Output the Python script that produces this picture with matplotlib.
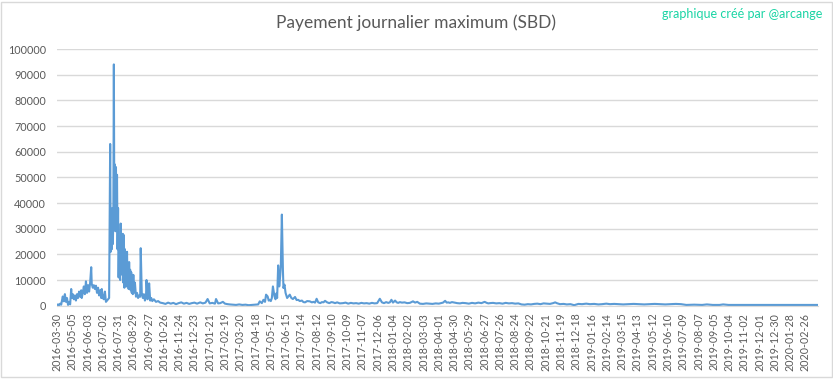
import matplotlib
matplotlib.use("Agg")
import matplotlib.pyplot as plt
from matplotlib.patches import Rectangle

# Paiement maximum journalier (SBD), par tranche.
# jour_* = index de catégorie (jour depuis 2016-03-30), sbd_* = valeur

# printemps 2016
jour_debut = [0, 2, 4, 6, 8, 10, 11, 13, 15, 17,
              19, 21, 23, 25, 27, 28, 30, 32, 34, 36,
              38, 40, 42, 44, 46, 47, 49, 51, 53, 55,
              57, 59, 61, 63, 65, 66, 68, 70, 72, 74,
              76, 78, 80, 82, 84, 85, 87, 89, 91, 93,
              95, 97, 99]
sbd_debut = [300, 500, 200, 800, 400, 2600, 3600, 1700, 4500, 1500,
             3000, 300, 1500, 500, 6500, 3000, 4500, 2500, 4000, 2000,
             4500, 3000, 5500, 3500, 6000, 3000, 5000, 7500, 4500, 9500,
             5000, 8000, 5500, 9000, 15000, 8500, 7000, 8000, 6500, 7800,
             5000, 7000, 4000, 6000, 3000, 6500, 3000, 2500, 5500, 1500,
             2000, 2500, 3000]

# pic de l'été 2016
jour_pic16 = [101, 102, 103, 104, 105, 106, 107, 108, 109, 110,
              111, 112, 113, 114, 115, 116, 117, 118, 119, 120,
              121, 122, 123, 124, 125, 126, 127, 128, 129, 130,
              131, 132, 133, 134, 135, 136, 137, 138, 139, 140,
              141, 142, 143, 144, 145, 146, 148, 150, 152, 154,
              156, 158, 159, 161, 162, 163, 165, 167, 169, 170,
              172, 173, 175, 177, 179, 181, 184, 188, 192, 196,
              201]
sbd_pic16 = [63000, 21000, 36000, 22000, 38000, 24000, 33000, 94000, 30000, 55000,
             29000, 54000, 30000, 51000, 22000, 38000, 11000, 25000, 12000, 10000,
             32000, 14000, 22000, 12000, 28000, 9000, 27500, 7000, 22000, 10000,
             20000, 7500, 21000, 8000, 16000, 6500, 17000, 9000, 14000, 6000,
             13000, 5000, 9000, 4500, 12000, 5000, 9000, 3500, 5000, 3000,
             4000, 3500, 22400, 5000, 4000, 3000, 4500, 2000, 3500, 10000,
             2500, 3000, 8700, 2000, 3000, 1800, 2500, 1500, 1800, 1200,
             1000]

# hiver 2016-2017
jour_creux = [206, 211, 216, 221, 226, 231, 236, 241, 246, 251,
              256, 261, 266, 272, 277, 282, 286, 290, 295, 300,
              302, 306, 310, 315, 319, 324, 328, 334, 340, 346,
              352, 358, 364, 370, 376, 382]
sbd_creux = [700, 1200, 800, 1100, 600, 1000, 1300, 800, 1100, 700,
             1000, 1200, 800, 1300, 900, 1200, 2600, 900, 1100, 800,
             2600, 900, 1000, 1500, 800, 600, 500, 400, 300, 500,
             300, 400, 200, 300, 400, 500]

# pic de juin 2017
jour_pic17 = [385, 389, 392, 395, 397, 400, 402, 404, 406, 408,
              410, 413, 415, 417, 418, 420, 422, 424, 425, 427,
              429, 430, 432, 434, 435, 437, 440, 442, 445, 448,
              452, 455, 458, 461, 465, 468, 471, 475, 480]
sbd_pic17 = [1700, 1000, 2300, 1500, 4300, 3600, 2000, 2300, 1800, 3000,
             7500, 3600, 2500, 4900, 3000, 15700, 7500, 12000, 15300, 35500,
             14000, 6900, 8200, 5000, 4300, 3000, 3800, 4300, 3000, 2600,
             3400, 2200, 2300, 1800, 2000, 1400, 1300, 1800, 1700]

# mi-2017 à fin 2018
jour_milieu = [484, 487, 490, 493, 496, 500, 503, 506, 509, 513,
               517, 521, 524, 528, 532, 537, 543, 548, 553, 558,
               563, 568, 573, 578, 583, 588, 593, 598, 603, 608,
               613, 617, 621, 625, 629, 632, 635, 638, 642, 645,
               648, 651, 655, 660, 665, 670, 676, 680, 684, 689,
               695, 701, 707, 713, 719, 725, 733, 737, 740, 743,
               746, 750, 755, 760, 765, 770, 776, 782, 788, 794,
               800, 806, 812, 816, 819, 822, 828, 834, 840, 846,
               852, 858, 864, 870, 876, 882, 888, 894, 900, 906,
               912, 918, 924, 930, 936, 942]
sbd_milieu = [1300, 1500, 1200, 2700, 1300, 1000, 1400, 1300, 1900, 1300,
              1000, 1400, 1300, 1000, 1300, 900, 1000, 1200, 800, 1100,
              900, 1000, 800, 1100, 900, 1000, 800, 1100, 900, 1000,
              2700, 1300, 1000, 1400, 1100, 1300, 2300, 1200, 2000, 1300,
              1100, 1400, 1200, 1300, 1000, 1100, 1700, 1200, 1500, 800,
              700, 900, 800, 700, 900, 800, 1200, 1900, 1200, 1300,
              1100, 1400, 1200, 1000, 900, 1100, 1000, 800, 1100, 900,
              1200, 1000, 1500, 1100, 900, 1000, 1100, 900, 1000, 800,
              1100, 900, 1000, 800, 900, 500, 400, 600, 500, 700,
              800, 600, 900, 800, 700, 1000]

# 2019 à mars 2020
jour_fin = [946, 949, 955, 962, 968, 975, 982, 990, 997, 1005,
            1012, 1020, 1028, 1035, 1043, 1050, 1058, 1065, 1075, 1085,
            1095, 1105, 1115, 1125, 1135, 1145, 1155, 1165, 1175, 1185,
            1195, 1210, 1225, 1234, 1245, 1258, 1265, 1275, 1290, 1305,
            1320, 1340, 1360, 1380, 1400, 1420, 1445]
sbd_fin = [1300, 1000, 600, 700, 500, 600, 200, 700, 600, 800,
           600, 700, 500, 600, 800, 600, 700, 600, 500, 600,
           700, 600, 500, 600, 700, 600, 500, 600, 700, 600,
           300, 400, 300, 500, 300, 300, 500, 300, 300, 300,
           300, 300, 300, 300, 300, 300, 300]

jour = jour_debut + jour_pic16 + jour_creux + jour_pic17 + jour_milieu + jour_fin
sbd = sbd_debut + sbd_pic16 + sbd_creux + sbd_pic17 + sbd_milieu + sbd_fin

# Étiquettes de l'axe horizontal (une toutes les 29 catégories)
dates = [
    "2016-03-30", "2016-05-05", "2016-06-03", "2016-07-02", "2016-07-31", "2016-08-29",
    "2016-09-27", "2016-10-26", "2016-11-24", "2016-12-23", "2017-01-21", "2017-02-19",
    "2017-03-20", "2017-04-18", "2017-05-17", "2017-06-15", "2017-07-14", "2017-08-12",
    "2017-09-10", "2017-10-09", "2017-11-07", "2017-12-06", "2018-01-04", "2018-02-02",
    "2018-03-03", "2018-04-01", "2018-04-30", "2018-05-29", "2018-06-27", "2018-07-26",
    "2018-08-24", "2018-09-22", "2018-10-21", "2018-11-19", "2018-12-18", "2019-01-16",
    "2019-02-14", "2019-03-15", "2019-04-13", "2019-05-12", "2019-06-10", "2019-07-09",
    "2019-08-07", "2019-09-05", "2019-10-04", "2019-11-02", "2019-12-01", "2019-12-30",
    "2020-01-28", "2020-02-26",
]

gris = "#595959"
grille = "#D9D9D9"
plt.rcParams["font.family"] = ["Lato", "DejaVu Sans"]

fig = plt.figure(figsize=(8.33, 3.79), dpi=100)
ax = fig.add_axes([0.0684, 0.1934, 0.9136, 0.6773])

ax.plot(jour, sbd, color="#5B9BD5", lw=1.5, solid_joinstyle="round")

ax.set_xlim(0, 1445)
ax.set_ylim(0, 100000)
ax.set_yticks(range(0, 100001, 10000))
ax.set_xticks([29 * i for i in range(len(dates))])
ax.set_xticklabels(dates, rotation=90)
ax.grid(axis="y", color=grille, lw=1)
ax.set_axisbelow(True)
for s in ["top", "right", "left"]:
    ax.spines[s].set_visible(False)
ax.spines["bottom"].set_color(grille)
ax.tick_params(axis="x", length=0, pad=5, labelsize=7.7, labelcolor=gris)
ax.tick_params(axis="y", length=0, pad=8, labelsize=7.8, labelcolor=gris)

fig.text(0.5, 0.94, "Payement journalier maximum (SBD)", ha="center", va="center",
         fontsize=12.5, color=gris)
fig.text(0.8915, 0.963, "graphique créé par @arcange", ha="center", va="center",
         fontsize=9, color="#19D4A4")

fig.add_artist(Rectangle((0.0015, 0.004), 0.997, 0.992, transform=fig.transFigure,
                         fill=False, edgecolor=grille, lw=1))

fig.savefig("out.png", dpi=100)
